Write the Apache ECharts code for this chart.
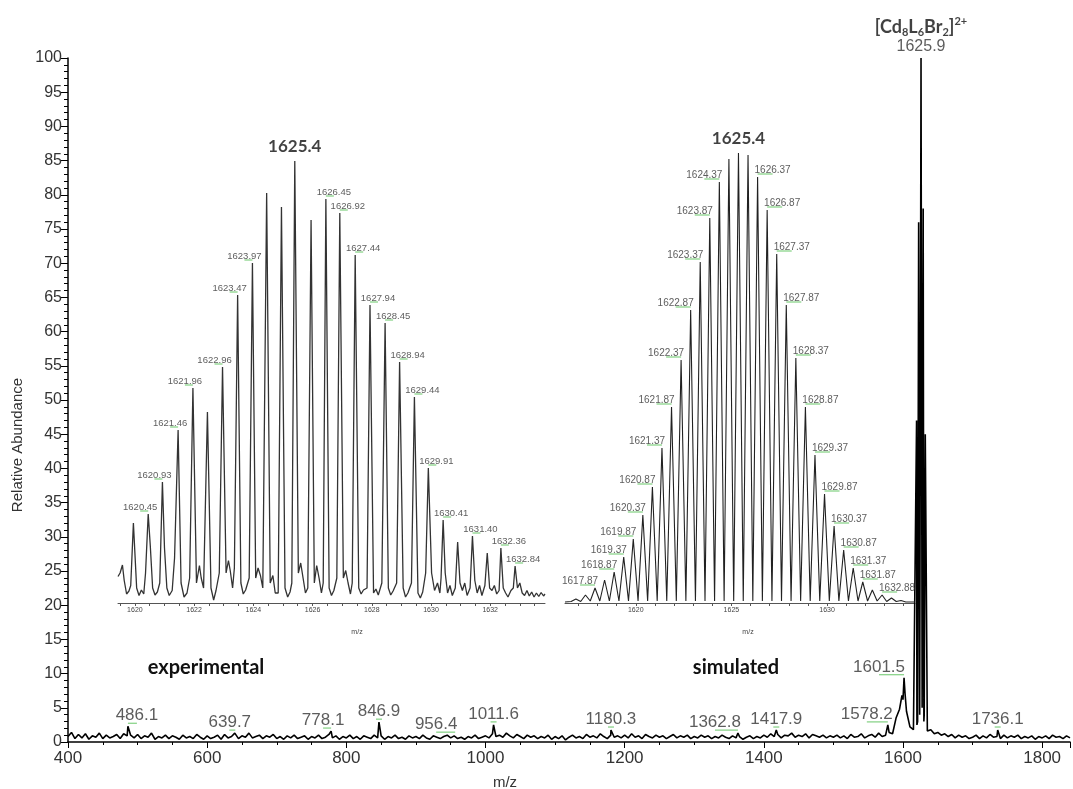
<!DOCTYPE html>
<html>
<head>
<meta charset="utf-8">
<title>ESI-MS [Cd8L6Br2]2+</title>
<script src="https://cdn.jsdelivr.net/npm/echarts@6/dist/echarts.min.js"></script>
<style>
  html, body { margin: 0; padding: 0; background: #fff; }
  #chart { width: 1073px; height: 789px; }
</style>
</head>
<body>
<div id="chart"></div>
<script>
// ---- main spectrum ----
// baseline noise, one value every 5 m/z starting at 400
const noiseStart = 400
const noiseStep = 5
const mainNoise = [
  0.8, 1.4, 0.5, 1.1, 0.6, 1.2, 0.4, 0.9, 0.7, 1.3, 0.5, 1.0, 0.6, 0.8, 1.1, 0.5, 1.2, 0.9, 1.0, 0.6,
  1.1, 0.5, 0.9, 0.7, 1.3, 0.4, 0.8, 0.6, 1.0, 0.5, 0.9, 0.7, 0.4, 1.0, 0.6, 0.8, 0.5, 1.1, 0.7, 0.4,
  0.9, 0.5, 0.7, 1.0, 0.4, 1.1, 0.6, 0.8, 1.2, 0.5, 0.9, 0.7, 1.3, 0.6, 0.8, 1.0, 0.5, 0.9, 0.7, 1.1,
  0.5, 0.8, 0.4, 0.9, 0.6, 1.0, 0.5, 0.7, 0.9, 0.4, 0.8, 0.6, 1.0, 0.5, 0.7, 1.1, 0.6, 0.9, 0.4, 0.8,
  0.6, 1.0, 0.5, 0.8, 0.4, 0.9, 0.7, 0.5, 1.0, 0.6, 0.9, 0.4, 0.8, 0.6, 1.0, 0.5, 0.7, 0.4, 0.9, 0.6,
  0.8, 0.5, 1.0, 0.6, 0.4, 0.9, 0.7, 0.5, 0.8, 1.0, 0.6, 0.9, 0.5, 0.7, 0.4, 0.8, 0.6, 1.0, 0.5, 0.7,
  0.9, 0.6, 1.2, 0.8, 1.0, 0.7, 1.3, 0.9, 0.6, 1.1, 0.8, 0.5, 1.0, 0.7, 0.9, 0.5, 0.8, 0.6, 1.0, 0.4,
  0.8, 0.5, 0.9, 0.3, 0.7, 1.0, 0.6, 0.8, 0.5, 1.1, 0.7, 0.9, 0.6, 1.2, 0.8, 0.5, 1.0, 0.7, 0.9, 0.6,
  1.0, 0.6, 1.2, 0.7, 0.9, 0.5, 1.1, 0.8, 0.6, 1.0, 0.7, 0.9, 0.5, 0.8, 1.1, 0.6, 0.9, 0.7, 1.0, 0.5,
  0.8, 0.6, 1.0, 0.7, 0.9, 0.5, 0.8, 0.6, 1.0, 0.7, 0.5, 0.9, 0.6, 0.8, 0.4, 0.7, 0.9, 0.5, 0.8, 0.6,
  1.0, 0.7, 1.2, 0.8, 1.1, 0.6, 1.0, 0.9, 1.3, 0.7, 1.0, 0.8, 1.2, 0.6, 1.1, 0.9, 0.7, 1.0, 0.6, 0.9,
  0.7, 1.0, 0.6, 0.9, 0.5, 1.1, 0.7, 0.8, 1.2, 0.6, 0.9, 1.1, 0.7, 1.3, 0.8, 1.0, 1.4, 1.2, 3.5, 4.8,
  6.2, 4.5, 2.2, 1.8, 2.5, 4.0, 3.0, 1.6, 1.8, 1.2, 1.4, 1.0, 1.2, 0.8, 1.1, 0.6, 1.0, 0.7, 0.9, 0.5,
  0.7, 1.0, 0.5, 0.9, 0.6, 1.1, 0.7, 0.8, 0.5, 1.0, 0.6, 0.9, 0.7, 1.0, 0.5, 0.8, 0.6, 0.9, 0.4, 0.8,
  0.6, 0.9, 0.5, 1.0, 0.7, 0.8, 0.5, 0.9, 0.6
]
// peaks on top of the noise [m/z, relative abundance]
const mainPeaks = [
  [486.1, 2.3], [639.7, 1.3], [778.1, 1.6], [846.9, 2.9], [956.4, 1.0], [1011.6, 2.5],
  [1180.3, 1.75], [1362.8, 1.3], [1417.9, 1.75], [1578.2, 2.5],
  [1598.5, 6.8], [1601.5, 9.4], [1603, 7.0],
  [1619.5, 47], [1621, 3], [1622.5, 76], [1624, 4], [1625.9, 100], [1627.5, 5],
  [1629, 78], [1630.5, 4], [1632, 45], [1736.1, 1.75]
]
const mainLabelMz = [486.1, 639.7, 778.1, 846.9, 956.4, 1011.6, 1180.3, 1362.8, 1417.9, 1578.2, 1601.5, 1736.1]
const basePeakMz = 1625.9

// ---- experimental inset [m/z, intensity] ----
const expTrace = [
  [1619.43, 5.3], [1619.50, 6], [1619.58, 7.6], [1619.64, 4.5], [1619.72, 1.8], [1619.80, 2.4],
  [1619.86, 3.5], [1619.95, 16], [1620.06, 3], [1620.14, 1.5], [1620.22, 2.6], [1620.30, 1.8],
  [1620.36, 6], [1620.45, 17.8], [1620.52, 11.5], [1620.60, 3], [1620.68, 1.6], [1620.76, 2.2],
  [1620.84, 4], [1620.93, 24.2], [1621.00, 11], [1621.08, 3], [1621.16, 1.5], [1621.26, 2.5],
  [1621.34, 9], [1621.46, 34.6], [1621.56, 4], [1621.66, 1.2], [1621.76, 2],
  [1621.85, 5], [1621.96, 43], [1622.08, 4], [1622.18, 7.5], [1622.24, 5], [1622.32, 3],
  [1622.45, 38.2], [1622.57, 3], [1622.66, 0.6], [1622.74, 2.5],
  [1622.85, 6], [1622.96, 47.2], [1623.08, 6], [1623.16, 8.5], [1623.22, 6.5], [1623.30, 3],
  [1623.36, 7], [1623.47, 61.6], [1623.58, 4], [1623.66, 1.8], [1623.74, 2.6],
  [1623.86, 5], [1623.97, 68], [1624.08, 5], [1624.16, 7], [1624.24, 5.5], [1624.32, 3],
  [1624.45, 82], [1624.57, 4], [1624.66, 5.5], [1624.74, 2],
  [1624.84, 2], [1624.95, 79.2], [1625.07, 3], [1625.16, 1.2], [1625.24, 2.2],
  [1625.30, 4], [1625.40, 88.4], [1625.52, 6], [1625.60, 8], [1625.68, 5], [1625.76, 2],
  [1625.84, 3], [1625.95, 76.6], [1626.06, 4], [1626.14, 7.5], [1626.22, 5], [1626.30, 2],
  [1626.36, 4], [1626.45, 80.8], [1626.56, 3], [1626.64, 1.5], [1626.72, 2.5],
  [1626.82, 5], [1626.92, 78], [1627.04, 5], [1627.12, 6.5], [1627.20, 4], [1627.28, 1.8],
  [1627.34, 4], [1627.44, 69.6], [1627.56, 3], [1627.64, 1.8], [1627.72, 2.6],
  [1627.84, 3], [1627.94, 59.6], [1628.06, 2], [1628.14, 2.8], [1628.22, 1.6],
  [1628.34, 4], [1628.45, 56], [1628.56, 3], [1628.64, 1.6], [1628.72, 2.4],
  [1628.84, 4], [1628.94, 48.2], [1629.06, 3], [1629.14, 1.2], [1629.22, 2],
  [1629.34, 4], [1629.44, 41.2], [1629.56, 2], [1629.64, 1], [1629.72, 2.2],
  [1629.82, 6], [1629.91, 27], [1630.02, 6], [1630.12, 2.5], [1630.22, 4], [1630.30, 2],
  [1630.34, 5], [1630.41, 16.6], [1630.48, 6], [1630.56, 2], [1630.64, 3.5], [1630.72, 1.5],
  [1630.82, 3], [1630.90, 12.2], [1630.98, 4], [1631.06, 2.5], [1631.14, 4], [1631.22, 1.5],
  [1631.32, 3], [1631.40, 13.4], [1631.48, 4.5], [1631.56, 2], [1631.64, 3.5], [1631.72, 1.5],
  [1631.82, 3.5], [1631.90, 10], [1631.98, 3], [1632.06, 2.5], [1632.14, 3.5], [1632.22, 1.8],
  [1632.30, 2.5], [1632.36, 11], [1632.44, 3], [1632.52, 2], [1632.60, 1.2], [1632.70, 2.5],
  [1632.78, 3], [1632.84, 7.4], [1632.92, 3], [1633.00, 4], [1633.08, 2], [1633.16, 1.5],
  [1633.24, 2.5], [1633.32, 1.4], [1633.40, 2.2], [1633.48, 1.2], [1633.56, 2], [1633.64, 1.3],
  [1633.72, 2.1], [1633.80, 1.4], [1633.85, 1.8]
]
const expLabelMz = [1620.45, 1620.93, 1621.46, 1621.96, 1622.96, 1623.47, 1623.97, 1626.45, 1626.92,
  1627.44, 1627.94, 1628.45, 1628.94, 1629.44, 1629.91, 1630.41, 1631.40, 1632.36, 1632.84]
const expTickLabels = [1620, 1622, 1624, 1626, 1628, 1630, 1632]
const expTicks = [1619.5, 1620, 1620.5, 1621, 1621.5, 1622, 1622.5, 1623, 1623.5, 1624, 1624.5, 1625,
  1625.5, 1626, 1626.5, 1627, 1627.5, 1628, 1628.5, 1629, 1629.5, 1630, 1630.5, 1631, 1631.5, 1632,
  1632.5, 1633, 1633.5]

// ---- simulated inset ----
const simPeaks = [
  [1616.37, 0.4], [1616.87, 0.8], [1617.37, 1.6], [1617.87, 3.0], [1618.37, 4.6], [1618.87, 6.2],
  [1619.37, 9.2], [1619.87, 12.8], [1620.37, 17.6], [1620.87, 23.2], [1621.37, 31], [1621.87, 39.2],
  [1622.37, 48.6], [1622.87, 58.6], [1623.37, 68.2], [1623.87, 77], [1624.37, 84.2], [1624.87, 88.8],
  [1625.37, 90], [1625.87, 89.6], [1626.37, 85.2], [1626.87, 78.6], [1627.37, 69.8], [1627.87, 59.6],
  [1628.37, 49], [1628.87, 39.2], [1629.37, 29.6], [1629.87, 21.8], [1630.37, 15.4], [1630.87, 10.6],
  [1631.37, 7], [1631.87, 4.2], [1632.37, 2.6], [1632.88, 1.6], [1633.37, 1.0], [1633.87, 0.5],
  [1634.37, 0.2]
]
const simValleys = [
  [1616.30, 0.2], [1616.62, 0.3], [1617.12, 0.3], [1617.62, 0.4], [1618.12, 0.4], [1618.62, 0.4],
  [1619.12, 0.4], [1619.62, 0.4], [1620.12, 0.4], [1620.62, 0.4], [1621.12, 0.4], [1621.62, 0.4],
  [1622.12, 0.4], [1622.62, 0.4], [1623.12, 0.4], [1623.62, 0.4], [1624.12, 0.4], [1624.62, 0.4],
  [1625.12, 0.4], [1625.62, 0.4], [1626.12, 0.4], [1626.62, 0.4], [1627.12, 0.4], [1627.62, 0.4],
  [1628.12, 0.4], [1628.62, 0.4], [1629.12, 0.4], [1629.62, 0.4], [1630.12, 0.4], [1630.62, 0.4],
  [1631.12, 0.4], [1631.62, 0.4], [1632.12, 0.4], [1632.62, 0.4], [1633.12, 0.3], [1633.62, 0.3],
  [1634.12, 0.2], [1634.60, 0.2]
]
const simLabelMz = [1617.87, 1618.87, 1619.37, 1619.87, 1620.37, 1620.87, 1621.37, 1621.87, 1622.37,
  1622.87, 1623.37, 1623.87, 1624.37, 1626.37, 1626.87, 1627.37, 1627.87, 1628.37, 1628.87, 1629.37,
  1629.87, 1630.37, 1630.87, 1631.37, 1631.87, 1632.88]
const simTickLabels = [1620, 1625, 1630]
const simTicks = [1617, 1618, 1619, 1620, 1621, 1622, 1623, 1624, 1625, 1626, 1627, 1628, 1629, 1630,
  1631, 1632, 1633, 1634]

const apexLabel = '1625.4'

// ---- chart ----
const sans = '"Liberation Sans", Arial, sans-serif'
const bold = 'Lato, "Open Sans", sans-serif'
const green = '#62c462'
const byMz = (a, b) => a[0] - b[0]
const heightAt = (list, mz) => list.find(p => p[0] === mz)[1]
const plain = v => String(v)

const mainTrace = mainNoise.map((v, i) => [noiseStart + i * noiseStep, v]).concat(mainPeaks).sort(byMz)
const simTrace = simPeaks.concat(simValleys).sort(byMz)

// horizontal nudges of the main peak labels (px)
const mainShift = { 486.1: 9, 639.7: -5, 778.1: -8, 956.4: -19, 1362.8: -23, 1578.2: -21, 1601.5: -25 }

function peakLabels(gridIdx, list, mzs, shiftOf, fontSize, digits) {
  return [
    {
      type: 'scatter', xAxisIndex: gridIdx, yAxisIndex: gridIdx, silent: true, symbolSize: 0, z: 5,
      data: mzs.map(mz => ({ value: [mz, heightAt(list, mz)], label: { offset: [shiftOf(mz), 0] } })),
      label: {
        show: true, position: 'top', distance: 2, color: '#333', fontFamily: sans, fontSize,
        formatter: p => p.value[0].toFixed(digits)
      }
    },
    {
      type: 'scatter', xAxisIndex: gridIdx, yAxisIndex: gridIdx, silent: true, symbol: 'rect', z: 4,
      itemStyle: { color: green },
      data: mzs.map(mz => {
        const dx = shiftOf(mz)
        return { value: [mz, heightAt(list, mz)], symbolSize: [Math.max(Math.abs(dx), 6), 1.2], symbolOffset: [dx / 2, -3] }
      })
    }
  ]
}

function insetX(gridIdx, min, max, ticks, labels) {
  return {
    type: 'value', gridIndex: gridIdx, min, max,
    axisLine: { lineStyle: { color: '#555', width: 1 } },
    axisTick: { customValues: ticks, length: 3, lineStyle: { color: '#555' } },
    axisLabel: { customValues: labels, formatter: plain, fontSize: 7, color: '#444', margin: 4, fontFamily: sans },
    splitLine: { show: false }
  }
}

const chart = echarts.init(document.getElementById('chart'))

chart.setOption({
  animation: false,
  backgroundColor: '#fff',
  grid: [
    { left: 68, right: 3, top: 58, bottom: 47 },
    { left: 118, width: 427, top: 103, bottom: 186 },
    { left: 565, width: 350, top: 103, bottom: 186 }
  ],
  xAxis: [
    {
      type: 'value', gridIndex: 0, min: 400, max: 1840, interval: 200,
      axisLine: { lineStyle: { color: '#000', width: 1.5 } },
      axisTick: { length: 6, lineStyle: { color: '#000' } },
      minorTick: { show: true, splitNumber: 4, length: 3, lineStyle: { color: '#000' } },
      axisLabel: { formatter: plain, fontSize: 17, color: '#333', fontFamily: sans, margin: 8, showMaxLabel: false },
      splitLine: { show: false }
    },
    insetX(1, 1619.43, 1633.85, expTicks, expTickLabels),
    insetX(2, 1616.3, 1634.6, simTicks, simTickLabels)
  ],
  yAxis: [
    {
      type: 'value', gridIndex: 0, min: 0, max: 100, interval: 5,
      axisLine: { show: true, lineStyle: { color: '#000', width: 1.5 } },
      axisTick: { show: true, length: 7, lineStyle: { color: '#000' } },
      minorTick: { show: true, splitNumber: 5, length: 4, lineStyle: { color: '#000' } },
      axisLabel: { fontSize: 16, color: '#333', fontFamily: sans, margin: 6 },
      splitLine: { show: false }
    },
    { type: 'value', gridIndex: 1, min: 0, max: 100, show: false },
    { type: 'value', gridIndex: 2, min: 0, max: 100, show: false }
  ],
  series: [
    {
      type: 'line', xAxisIndex: 0, yAxisIndex: 0, data: mainTrace, symbol: 'none', silent: true,
      lineStyle: { color: '#000', width: 1.6 }
    },
    {
      type: 'line', xAxisIndex: 1, yAxisIndex: 1, data: expTrace, symbol: 'none', silent: true,
      lineStyle: { color: '#333', width: 1.3 }
    },
    {
      type: 'line', xAxisIndex: 2, yAxisIndex: 2, data: simTrace, symbol: 'none', silent: true,
      lineStyle: { color: '#222', width: 1.1 }
    },
    ...peakLabels(0, mainPeaks, mainLabelMz, mz => mainShift[mz] || 0, 17, 1),
    ...peakLabels(1, expTrace, expLabelMz, mz => (mz < 1625.4 ? -8 : 8), 9.5, 2),
    ...peakLabels(2, simPeaks, simLabelMz, mz => (mz < 1625.4 ? -15 : 15), 10, 2),
    {
      type: 'scatter', xAxisIndex: 0, yAxisIndex: 0, silent: true, symbolSize: 0,
      data: [[basePeakMz, heightAt(mainPeaks, basePeakMz)]],
      label: {
        show: true, position: 'top', distance: 2,
        formatter: '{f|[Cd}{s|8}{f|L}{s|6}{f|Br}{s|2}{f|]}{p|2+}\n{n|' + basePeakMz.toFixed(1) + '}',
        rich: {
          f: { fontFamily: bold, fontWeight: 'bold', fontSize: 18, lineHeight: 22, color: '#111' },
          s: { fontFamily: bold, fontWeight: 'bold', fontSize: 11, lineHeight: 12, verticalAlign: 'bottom', color: '#111' },
          p: { fontFamily: bold, fontWeight: 'bold', fontSize: 11, lineHeight: 12, verticalAlign: 'top', color: '#111' },
          n: { fontFamily: sans, fontSize: 16, lineHeight: 18, color: '#333', align: 'center' }
        }
      }
    },
    {
      type: 'scatter', xAxisIndex: 1, yAxisIndex: 1, silent: true, symbolSize: 0,
      data: [[1625.4, heightAt(expTrace, 1625.4)]],
      label: { show: true, position: 'top', distance: 6, formatter: apexLabel, fontFamily: bold, fontWeight: 'bold', fontSize: 17, color: '#111' }
    },
    {
      type: 'scatter', xAxisIndex: 2, yAxisIndex: 2, silent: true, symbolSize: 0,
      data: [[1625.37, heightAt(simPeaks, 1625.37)]],
      label: { show: true, position: 'top', distance: 6, formatter: apexLabel, fontFamily: bold, fontWeight: 'bold', fontSize: 17, color: '#111' }
    }
  ],
  graphic: [
    { type: 'text', x: 206, y: 668, style: { text: 'experimental', font: 'bold 20px Lato, sans-serif', fill: '#111', align: 'center', verticalAlign: 'middle' } },
    { type: 'text', x: 736, y: 668, style: { text: 'simulated', font: 'bold 20px Lato, sans-serif', fill: '#111', align: 'center', verticalAlign: 'middle' } },
    { type: 'text', x: 505, y: 783, style: { text: 'm/z', font: '15px "Liberation Sans", Arial, sans-serif', fill: '#333', align: 'center', verticalAlign: 'middle' } },
    { type: 'text', x: 357, y: 632, style: { text: 'm/z', font: '7px "Liberation Sans", Arial, sans-serif', fill: '#444', align: 'center', verticalAlign: 'middle' } },
    { type: 'text', x: 748, y: 632, style: { text: 'm/z', font: '7px "Liberation Sans", Arial, sans-serif', fill: '#444', align: 'center', verticalAlign: 'middle' } },
    { type: 'text', x: 18, y: 445, rotation: Math.PI / 2, style: { text: 'Relative Abundance', font: '15px "Liberation Sans", Arial, sans-serif', fill: '#333', align: 'center', verticalAlign: 'middle' } }
  ]
})
</script>
</body>
</html>
